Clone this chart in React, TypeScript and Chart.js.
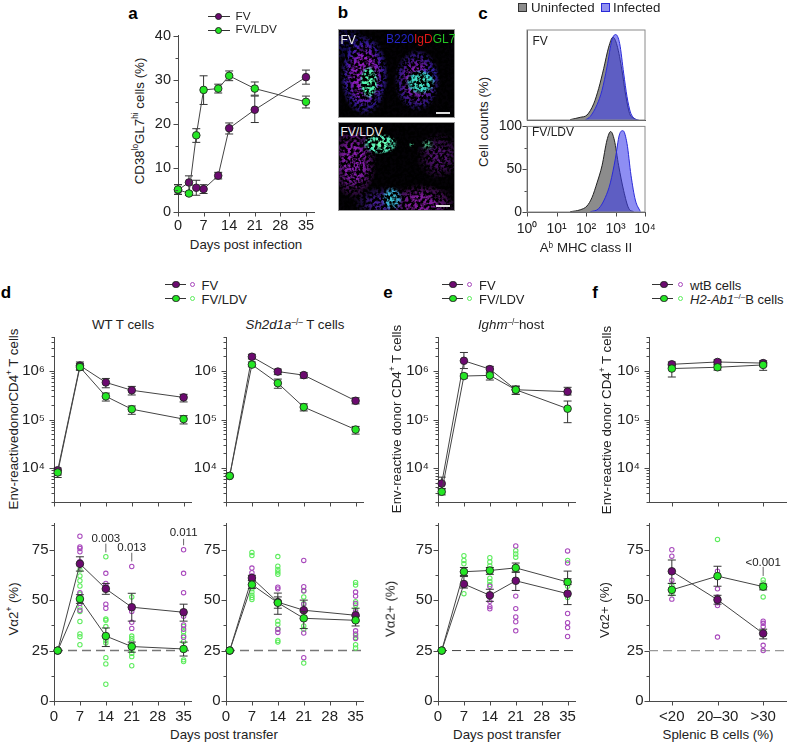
import React, { useEffect, useRef } from "react";
import { Chart, registerables } from "chart.js";
Chart.register(...registerables);

const FONT = "'Liberation Sans', Arial, sans-serif";
const INK = "#222";
const AXIS = "#4a4a4a";
const PURPLE = "#6c0a70";
const GREEN = "#24e624";
const PURPLE_DOT = "#a848bc";
const GREEN_DOT = "#5cec5c";

// ---- shared axis values
const dayTicks = [0, 7, 14, 21, 28, 35];
const pctTicks = [0, 12.5, 25, 37.5, 50, 62.5, 75, 87.5];
const pctLabels = [0, 25, 50, 75];
const aPctTicks = [0, 5, 10, 15, 20, 25, 30, 35, 40];
const aPctLabels = [0, 10, 20, 30, 40];
const logTicks = [2e3, 3e3, 4e3, 5e3, 6e3, 7e3, 8e3, 9e3, 1e4, 2e4, 3e4, 4e4, 5e4, 6e4, 7e4, 8e4, 9e4, 1e5, 2e5, 3e5, 4e5, 5e5, 6e5, 7e5, 8e5, 9e5, 1e6, 2e6, 3e6, 4e6, 5e6];
const logLabels: Record<number, string> = { 10000: "10⁴", 100000: "10⁵", 1000000: "10⁶" };
const cXTicks = [1, 10, 100, 1000, 10000];
const cXLabels: Record<number, string> = { 1: "10⁰", 10: "10¹", 100: "10²", 1000: "10³", 10000: "10⁴" };
const cYTicks = [0, 25, 50, 75, 100];
const cYLabels = [0, 50, 100];
const splenic = ["<20", "20–30", ">30"];
const transferDays = [1, 7, 14, 21, 35];

// ---- panel a
const aDays = [0, 3, 5, 7, 11, 14, 21, 35];
const aFv = [5, 6.7, 5.5, 5.2, 8.25, 19, 23.2, 30.6];
const aFvHi = [6.2, 8.2, 7.2, 6.2, 9, 20.2, 26.3, 32.2];
const aFvLo = [4, 3.8, 3.8, 4.2, 7.5, 17.7, 20.3, 29];
const aLdv = [5.1, 4.2, 17.4, 27.7, 28, 30.9, 28, 25];
const aLdvHi = [6.2, 4.6, 18.9, 30.9, 29, 32, 29.5, 26.3];
const aLdvLo = [4, 3.8, 15.8, 24.4, 27, 29.8, 26.5, 23.6];

// ---- panel c
const cTopGreyX = [29, 64, 108, 182, 269, 397, 587, 822, 1125, 1660, 2153, 3020, 4130, 5355];
const cTopGreyY = [0.4, 3, 5.5, 18, 35, 57, 81, 92, 83, 55, 30, 7, 2, 0];
const cTopBlueX = [95, 140, 236, 349, 515, 760, 1013, 1384, 1890, 2455, 3184, 4700, 6100];
const cTopBlueY = [0, 4, 17, 33, 59, 89, 95, 85, 52, 26, 9, 1, 0];
const cBotGreyX = [29, 64, 108, 160, 236, 349, 515, 685, 913, 1280, 1890, 2793, 4130];
const cBotGreyY = [0.3, 2.6, 7, 17, 34, 54, 84, 94, 84, 54, 25, 4.4, 0.3];
const cBotBlueX = [140, 269, 452, 668, 986, 1349, 1795, 2455, 3350, 4700, 6950];
const cBotBlueY = [0.3, 4, 17, 34, 62, 90, 95, 80, 43, 14, 0.5];

// ---- panel d, WT T cells
const wtTopFv = [9000, 1.29e6, 5.8e5, 4e5, 2.85e5];
const wtTopFvHi = [10000, 1.53e6, 7e5, 4.8e5, 3.3e5];
const wtTopFvLo = [7200, 1.03e6, 4.5e5, 3.2e5, 2.3e5];
const wtTopLdv = [8100, 1.2e6, 3e5, 1.63e5, 1.02e5];
const wtTopLdvHi = [9000, 1.43e6, 3.5e5, 1.9e5, 1.2e5];
const wtTopLdvLo = [6400, 1.06e6, 2.4e5, 1.28e5, 8.1e4];
const wtBotFv = [25, 68, 55.6, 46.5, 44];
const wtBotFvHi = [25, 71.5, 58.3, 53.4, 48];
const wtBotFvLo = [25, 64.4, 52.9, 39.6, 39.6];
const wtBotLdv = [25, 50.6, 32.2, 27, 25.8];
const wtBotLdvHi = [25, 52.7, 36.2, 29.2, 29.2];
const wtBotLdvLo = [25, 48.4, 27, 24.2, 22.3];
const wtFvDots: [number, number[]][] = [
  [7, [81.7, 76.4, 75.6, 74, 69.2, 53.7, 51.6, 48.4, 45]],
  [14, [63.3, 58.3, 57.2, 55.6, 48, 46]],
  [21, [66.7, 46.8, 44.4, 39, 36]],
  [35, [75, 63.3, 53.7, 42, 37.7, 35.6, 31.6]],
];
const wtLdvDots: [number, number[]][] = [
  [7, [65, 62, 59.6, 57, 53, 48.4, 46.3, 44.4, 39.4, 33.2, 31.9, 27.9]],
  [14, [71.5, 40.7, 40, 36.9, 31.6, 30, 28.8, 21.5, 18.4, 8.3]],
  [21, [51.6, 32.2, 31, 29.8, 25.2, 23.6, 22, 17.5]],
  [35, [37, 34.3, 32.4, 29.5, 20.4, 19.6]],
];
const wtNotes: [number, number, number, number, string][] = [
  [14, 80.4, 78, 73.7, "0.003"],
  [21, 76, 73.5, 69.2, "0.013"],
  [35, 83.6, 80.4, 77.2, "0.011"],
];

// ---- panel d, Sh2d1a T cells
const shTopFv = [6900, 1.96e6, 9.7e5, 8.2e5, 2.43e5];
const shTopFvHi = [6900, 2.2e6, 1.09e6, 9.2e5, 2.8e5];
const shTopFvLo = [6900, 1.77e6, 8.4e5, 7.1e5, 2.1e5];
const shTopLdv = [6900, 1.35e6, 5.6e5, 1.8e5, 6.2e4];
const shTopLdvHi = [6900, 1.53e6, 6.8e5, 2.1e5, 7.2e4];
const shTopLdvLo = [6900, 1.22e6, 4.4e5, 1.5e5, 5e4];
const shBotFv = [25, 61, 49, 45, 42.5];
const shBotFvHi = [25, 62.3, 53.5, 50, 46];
const shBotFvLo = [25, 59.8, 46, 40.7, 39.6];
const shBotLdv = [25, 57.7, 48.7, 41, 40];
const shBotLdvHi = [25, 59.6, 51.6, 44.4, 42];
const shBotLdvLo = [25, 55.8, 43, 35.9, 37.2];
const shFvDots: [number, number[]][] = [
  [7, [65.9, 63.6, 62]],
  [14, [56.4, 55.6, 35.6, 34]],
  [21, [69.7, 56.7, 54.5, 48, 45, 33.7, 21.5]],
  [35, [54, 52, 48.4, 44.2, 34.8, 33.2, 31]],
];
const shLdvDots: [number, number[]][] = [
  [7, [73.6, 72.1, 55.6, 54, 52.4, 51.3, 50.3]],
  [14, [71.6, 66.8, 65.2, 64, 62.8, 39.6, 38, 35.6, 30, 29.2]],
  [21, [54.8, 51.6, 48.4, 37.2, 35.6, 18.8]],
  [35, [58.8, 57.5, 49.2, 47.6, 45.2, 32.4, 31.4, 27.9, 26.3]],
];

// ---- panel e
const igTopFv = [4800, 1.62e6, 1.09e6, 4.1e5, 3.75e5];
const igTopFvHi = [6500, 2.4e6, 1.24e6, 4.9e5, 4.6e5];
const igTopFvLo = [3800, 1.12e6, 9.4e5, 3.3e5, 3.2e5];
const igTopLdv = [3250, 7.85e5, 8.1e5, 4.1e5, 1.67e5];
const igTopLdvHi = [3700, 8.7e5, 9e5, 4.8e5, 2.4e5];
const igTopLdvLo = [2800, 7.1e5, 6.5e5, 3.3e5, 8.6e4];
const igBotFv = [25, 58, 52.4, 59.6, 53.2];
const igBotFvHi = [25, 61.7, 55.4, 64, 64.4];
const igBotFvLo = [25, 56, 49.4, 54.8, 47.8];
const igBotLdv = [25, 64.1, 64.7, 66, 59];
const igBotLdvHi = [25, 66.2, 66.2, 68.4, 60.6];
const igBotLdvLo = [25, 62.2, 62.8, 63.8, 57.7];
const igFvDots: [number, number[]][] = [
  [7, [58.5]],
  [14, [56.9, 49.4, 46.8, 45.7]],
  [21, [76.9, 52, 45.8, 41.7, 39.3, 34.8]],
  [35, [74.4, 68.4, 43.4, 38.8, 36.4, 32]],
];
const igLdvDots: [number, number[]][] = [
  [7, [72, 69.7, 68, 53.2]],
  [14, [71, 68.9, 67, 60.9, 59.3, 57.7]],
  [21, [74.5, 72.9, 71.3]],
  [35, [69.7, 56.9, 53.7, 51.3]],
];

// ---- panel f
const fTopWt = [1.37e6, 1.53e6, 1.45e6];
const fTopWtHi = [1.53e6, 1.69e6, 1.62e6];
const fTopWtLo = [1.2e6, 1.37e6, 1.25e6];
const fTopKo = [1.12e6, 1.19e6, 1.33e6];
const fTopKoHi = [1.3e6, 1.33e6, 1.5e6];
const fTopKoLo = [7.5e5, 1.04e6, 1.03e6];
const fBotWt = [64.3, 50.2, 33.5];
const fBotWtHi = [69.9, 52.4, 35.6];
const fBotWtLo = [58.3, 48, 30.8];
const fBotKo = [55.1, 61.9, 56.7];
const fBotKoHi = [58.3, 66.8, 58];
const fBotKoLo = [52.4, 56.9, 55.1];
const fWtDots: [string, number[]][] = [
  ["<20", [75, 71.8, 59.9, 50.5]],
  ["20–30", [64.4, 55.6, 51.6, 48.7, 47.3, 31.7]],
  [">30", [39.6, 38.5, 36.9, 27.6, 25]],
];
const fKoDots: [string, number[]][] = [
  ["<20", [57.2, 53.2]],
  ["20–30", [80.1]],
  [">30", [60, 58.5, 51.6]],
];
const fNotes: [string, number, number, number, string][] = [[">30", 68.7, 66.5, 62, "<0.001"]];

// ---- dataset helpers
const mean = (label: string, xs: any[], ys: number[], hi: number[], lo: number[], color: string, order: number) => ({
  label,
  data: ys.map((y, i) => ({ x: xs[i], y })),
  errHi: hi,
  errLo: lo,
  borderColor: "#444",
  borderWidth: 1,
  backgroundColor: color,
  pointBackgroundColor: color,
  pointBorderColor: "#222",
  pointBorderWidth: 0.9,
  pointRadius: 3.8,
  tension: 0,
  order,
  clip: false,
});
const dots = (label: string, groups: [any, number[]][], color: string) => ({
  label,
  data: groups.flatMap(([x, ys]) => ys.map((y) => ({ x, y }))),
  showLine: false,
  pointBackgroundColor: "rgba(255,255,255,0)",
  pointBorderColor: color,
  pointBorderWidth: 1.05,
  pointRadius: 2.2,
  order: 10,
  clip: false,
});
const hist = (label: string, xs: number[], ys: number[], fill: string, line: string, order: number) => ({
  label,
  data: ys.map((y, i) => ({ x: xs[i], y })),
  fill: "origin",
  backgroundColor: fill,
  borderColor: line,
  borderWidth: 1,
  pointRadius: 0,
  cubicInterpolationMode: "monotone",
  order,
});

// ---- plugin: error bars, dashed reference, tick marks, frame, p-value notes
const decor = (cfg: any) => ({
  id: "decor",
  beforeDatasetsDraw(chart: any) {
    if (cfg.refY === undefined) return;
    const { ctx, chartArea, scales } = chart;
    const y = scales.y.getPixelForValue(cfg.refY);
    ctx.save();
    ctx.strokeStyle = cfg.refColor || "#777";
    ctx.lineWidth = cfg.refWidth || 1.3;
    ctx.setLineDash([9, 5]);
    ctx.beginPath();
    ctx.moveTo(chartArea.left, y);
    ctx.lineTo(chartArea.right, y);
    ctx.stroke();
    ctx.restore();
  },
  beforeDatasetDraw(chart: any, args: any) {
    const ds = chart.data.datasets[args.index];
    if (!ds.errHi) return;
    const { ctx, scales } = chart;
    const meta = chart.getDatasetMeta(args.index);
    ctx.save();
    ctx.strokeStyle = "#333";
    ctx.lineWidth = 1;
    meta.data.forEach((pt: any, i: number) => {
      const a = scales.y.getPixelForValue(ds.errHi[i]);
      const b = scales.y.getPixelForValue(ds.errLo[i]);
      if (Math.abs(a - b) < 0.5) return;
      ctx.beginPath();
      ctx.moveTo(pt.x, a);
      ctx.lineTo(pt.x, b);
      ctx.moveTo(pt.x - 4, a);
      ctx.lineTo(pt.x + 4, a);
      ctx.moveTo(pt.x - 4, b);
      ctx.lineTo(pt.x + 4, b);
      ctx.stroke();
    });
    ctx.restore();
  },
  afterDraw(chart: any) {
    const { ctx, chartArea, scales } = chart;
    ctx.save();
    ctx.strokeStyle = AXIS;
    ctx.lineWidth = 1;
    if (!cfg.noXTicks) {
      scales.x.ticks.forEach((t: any) => {
        const p = Math.round(scales.x.getPixelForValue(t.value)) + 0.5;
        ctx.beginPath();
        ctx.moveTo(p, chartArea.bottom);
        ctx.lineTo(p, chartArea.bottom + 4.5);
        ctx.stroke();
      });
    }
    if (!cfg.noYTicks) {
      scales.y.ticks.forEach((t: any) => {
        const major = !!t.label;
        const p = Math.round(scales.y.getPixelForValue(t.value)) + 0.5;
        ctx.beginPath();
        ctx.moveTo(chartArea.left, p);
        ctx.lineTo(chartArea.left - (major ? 4.5 : 2.5), p);
        ctx.stroke();
      });
    }
    if (cfg.frame) {
      ctx.strokeStyle = "#8a8a8a";
      ctx.strokeRect(chartArea.left, chartArea.top, chartArea.right - chartArea.left, chartArea.bottom - chartArea.top);
    }
    (cfg.notes || []).forEach(([x, yText, y1, y2, text]: any) => {
      const px = scales.x.getPixelForValue(x);
      ctx.strokeStyle = "#666";
      ctx.beginPath();
      ctx.moveTo(px, scales.y.getPixelForValue(y1));
      ctx.lineTo(px, scales.y.getPixelForValue(y2));
      ctx.stroke();
      ctx.fillStyle = INK;
      ctx.font = `11.5px ${FONT}`;
      ctx.textAlign = "center";
      ctx.textBaseline = "middle";
      ctx.fillText(text, px, scales.y.getPixelForValue(yText));
    });
    ctx.restore();
  },
});

// ---- axes
const xAxis = (o: any, mb: number) => ({
  type: o.type || "linear",
  min: o.min,
  max: o.max,
  offset: o.type === "category" ? true : false,
  afterBuildTicks: (s: any) => {
    if (o.ticks) s.ticks = o.ticks.map((value: number) => ({ value }));
  },
  afterFit: (s: any) => {
    s.height = mb;
  },
  grid: { display: false, drawTicks: false, tickLength: 0 },
  border: { display: true, color: AXIS, width: 1 },
  ticks: {
    display: !o.hide,
    autoSkip: false,
    maxRotation: 0,
    minRotation: 0,
    padding: o.pad ?? 7,
    color: INK,
    font: { family: FONT, size: o.size ?? 15 },
    ...(o.fmt ? { callback: o.fmt } : {}),
  },
});
const yAxis = (o: any, ml: number) => ({
  type: o.type || "linear",
  min: o.min,
  max: o.max,
  afterBuildTicks: (s: any) => {
    s.ticks = o.ticks.map((value: number) => ({ value }));
  },
  afterFit: (s: any) => {
    s.width = ml;
  },
  grid: { display: false, drawTicks: false, tickLength: 0 },
  border: { display: true, color: AXIS, width: 1 },
  ticks: {
    display: !o.hide,
    autoSkip: false,
    padding: o.pad ?? 6,
    color: INK,
    font: { family: FONT, size: o.size ?? 15 },
    callback: o.fmt,
  },
});

const pctFmt = (v: number) => (pctLabels.includes(v) ? String(v) : "");
const logFmt = (v: number) => logLabels[v] || "";
const dayX = { min: 0, max: 37, ticks: dayTicks, fmt: (v: number) => String(v) };
const pctY = { min: 0, max: 88, ticks: pctTicks, fmt: pctFmt, pad: 5.5 };
const logY = { type: "logarithmic", min: 2000, max: 5e6, ticks: logTicks, fmt: logFmt, pad: 9 };
const catX = { type: "category", labels: splenic };

const ML = 48, MT = 9, MR = 24;

function Panel({ left, top, w, h, x, y, mb, datasets, labels, deco }: any) {
  const ref = useRef<HTMLCanvasElement>(null);
  useEffect(() => {
    const chart = new Chart(ref.current as HTMLCanvasElement, {
      type: "line",
      data: { labels, datasets },
      options: {
        animation: false,
        responsive: false,
        maintainAspectRatio: false,
        layout: { padding: { top: MT, right: MR, left: 0, bottom: 0 } },
        plugins: { legend: { display: false }, tooltip: { enabled: false }, title: { display: false } },
        scales: { x: xAxis(x, mb), y: yAxis(y, ML) },
      } as any,
      plugins: [decor(deco || {})],
    } as any);
    return () => chart.destroy();
  }, []);
  return (
    <canvas
      ref={ref}
      width={w + ML + MR}
      height={h + MT + mb}
      style={{ position: "absolute", left: left - ML, top: top - MT, width: w + ML + MR, height: h + MT + mb }}
    />
  );
}

// ---- text helpers
const T = ({ x, y, size = 13.3, rot, bold, color = INK, start, spacing, children }: any) => (
  <div
    style={{
      position: "absolute",
      left: x,
      top: y,
      transform: rot ? "translate(-50%,-50%) rotate(180deg)" : `translate(${start ? "0" : "-50%"},-50%)`,
      writingMode: rot ? "vertical-rl" : undefined,
      whiteSpace: "nowrap",
      fontFamily: FONT,
      fontSize: size,
      lineHeight: 1,
      fontWeight: bold ? 700 : 400,
      letterSpacing: spacing,
      color,
    }}
  >
    {children}
  </div>
);
const Sup = ({ children }: any) => (
  <span style={{ fontSize: "0.62em", lineHeight: 0, verticalAlign: "0.55em" }}>{children}</span>
);

const Key = ({ x0, x1, cx, hollowX, y, fill, stroke, big = 3.8 }: any) => (
  <>
    <div style={{ position: "absolute", left: x0, top: y, width: x1 - x0, height: 1, background: "#333" }} />
    <div
      style={{
        position: "absolute",
        left: cx - big,
        top: y + 0.5 - big,
        width: big * 2,
        height: big * 2,
        borderRadius: "50%",
        background: fill,
        border: "0.9px solid #222",
        boxSizing: "border-box",
      }}
    />
    {hollowX !== undefined && (
      <div
        style={{
          position: "absolute",
          left: hollowX - 2.7,
          top: y + 0.5 - 2.7,
          width: 5.4,
          height: 5.4,
          borderRadius: "50%",
          border: `1.1px solid ${stroke}`,
          boxSizing: "border-box",
        }}
      />
    )}
  </>
);

// Micrograph stand-ins for panel b: soft colour regions, mottled by an SVG noise filter.
const Micro = ({ top, layers, id, seed }: any) => (
  <div
    style={{
      position: "absolute",
      left: 338,
      top,
      width: 117,
      height: 89,
      background: "#040206",
      border: "1px solid #999",
      boxSizing: "border-box",
      overflow: "hidden",
    }}
  >
    <div style={{ position: "absolute", inset: 0, background: layers }} />
    <svg width={117} height={89} style={{ position: "absolute", left: 0, top: 0, filter: "blur(0.5px)" }}>
      <filter id={id} x="0" y="0" width="100%" height="100%">
        <feTurbulence type="fractalNoise" baseFrequency="0.33" numOctaves={2} seed={seed} />
        <feColorMatrix type="matrix" values="0 0 0 0 0  0 0 0 0 0  0 0 0 0 0  4.5 0 0 0 -1.7" />
      </filter>
      <rect width={117} height={89} filter={`url(#${id})`} />
    </svg>
  </div>
);
const microTopGreen =
  "radial-gradient(ellipse 8% 19% at 26% 60%, #60ffb0 0%, #48f0b0 75%, rgba(46,200,136,0) 100%)," +
  "radial-gradient(ellipse 13% 14% at 71% 60%, #50f0c8 0%, #38d0c8 75%, rgba(40,170,160,0) 100%)";
const microTopBase =
  "radial-gradient(ellipse 9% 12% at 78% 52%, rgba(40,50,210,0.95) 0%, rgba(40,50,190,0) 100%)," +
  "radial-gradient(ellipse 21% 47% at 22% 52%, rgba(150,30,200,0.95) 45%, rgba(60,30,180,0.8) 80%, rgba(40,20,140,0) 100%)," +
  "radial-gradient(ellipse 20% 36% at 68% 58%, rgba(140,30,190,0.9) 40%, rgba(65,30,175,0.7) 80%, rgba(40,20,140,0) 100%)," +
  "radial-gradient(ellipse 18% 28% at 6% 15%, rgba(30,20,140,0.7) 0%, rgba(30,20,120,0) 100%)";
const microBotGreen =
  "radial-gradient(ellipse 15% 12% at 36% 24%, #70ffb0 0%, #50e8b8 75%, rgba(50,200,160,0) 100%)," +
  "radial-gradient(ellipse 6% 7% at 77% 25%, #58f0a0 0%, rgba(60,208,128,0) 100%)," +
  "radial-gradient(ellipse 2.5% 3% at 63% 25%, #50e0a0 0%, rgba(48,192,128,0) 100%)," +
  "radial-gradient(ellipse 9% 14% at 46% 87%, #40c8d0 0%, #38a8d0 65%, rgba(40,140,180,0) 100%)";
const microBotBase =
  "radial-gradient(ellipse 20% 44% at 13% 45%, rgba(140,30,180,0.95) 40%, rgba(80,20,130,0) 100%)," +
  "radial-gradient(ellipse 30% 22% at 72% 92%, rgba(140,30,170,0.9) 35%, rgba(80,20,130,0) 100%)," +
  "radial-gradient(ellipse 20% 28% at 87% 38%, rgba(110,25,150,0.7) 30%, rgba(70,20,120,0) 100%)," +
  "radial-gradient(ellipse 26% 20% at 38% 92%, rgba(80,35,170,0.85) 30%, rgba(60,30,150,0) 100%)";

const TOP_BOX = { top: 328, h: 183 };
const BOT_BOX = { top: 518, h: 183 };

export default function App() {
  return (
    <div style={{ position: "absolute", left: 0, top: 0, width: 788, height: 743, background: "#fff", overflow: "hidden" }}>
      {/* panel letters */}
      <T x={133} y={13} size={17} bold color="#000">a</T>
      <T x={343} y={12} size={17} bold color="#000">b</T>
      <T x={483} y={13} size={17} bold color="#000">c</T>
      <T x={6} y={292} size={17} bold color="#000">d</T>
      <T x={388} y={292} size={17} bold color="#000">e</T>
      <T x={595} y={292} size={17} bold color="#000">f</T>

      {/* a */}
      <T x={140} y={121} rot size={13.3}>CD38<Sup>lo</Sup>GL7<Sup>hi</Sup> cells (%)</T>
      <Panel
        left={178}
        top={29}
        w={136}
        h={183}
        mb={24}
        x={{ min: 0, max: 37.2, ticks: dayTicks, fmt: (v: number) => String(v), pad: 5.5, size: 14.5 }}
        y={{ min: 0, max: 40, ticks: aPctTicks, fmt: (v: number) => (aPctLabels.includes(v) ? String(v) : ""), pad: 7, size: 14.5 }}
        datasets={[mean("FV", aDays, aFv, aFvHi, aFvLo, PURPLE, 2), mean("FV/LDV", aDays, aLdv, aLdvHi, aLdvLo, GREEN, 1)]}
      />
      <Key x0={208} x1={230} cx={218.7} y={16} fill={PURPLE} />
      <Key x0={208} x1={230} cx={218.7} y={30} fill={GREEN} />
      <T x={235.5} y={17} size={11.8} start>FV</T>
      <T x={235.5} y={30} size={11.8} start>FV/LDV</T>
      <T x={246} y={245} size={13.3}>Days post infection</T>

      {/* b */}
      <Micro id="noiseTop" seed={4} top={29} layers={`${microTopGreen},${microTopBase}`} />
      <Micro id="noiseBot" seed={9} top={122} layers={`${microBotGreen},${microBotBase}`} />
      <T x={340.5} y={40} size={12} color="#eee" start>FV</T>
      <T x={386} y={39} size={12} start>
        <span style={{ color: "#2424c8" }}>B220</span>
        <span style={{ color: "#e01818" }}>IgD</span>
        <span style={{ color: "#22c422" }}>GL7</span>
      </T>
      <T x={340.5} y={132} size={12} color="#eee" start>FV/LDV</T>
      <div style={{ position: "absolute", left: 436, top: 112, width: 14, height: 1.5, background: "#ddd" }} />
      <div style={{ position: "absolute", left: 436, top: 205, width: 14, height: 1.5, background: "#ddd" }} />

      {/* c */}
      <T x={484} y={122} rot>Cell counts (%)</T>
      <Panel
        left={527}
        top={30}
        w={118}
        h={90}
        mb={3}
        x={{ type: "logarithmic", min: 1, max: 10000, ticks: cXTicks, hide: true }}
        y={{ min: 0, max: 100, ticks: cYTicks, hide: true, fmt: () => "" }}
        deco={{ frame: true, noXTicks: true, noYTicks: true }}
        datasets={[
          hist("Uninfected", cTopGreyX, cTopGreyY, "rgba(95,95,95,0.72)", "#222", 2),
          hist("Infected", cTopBlueX, cTopBlueY, "rgba(60,60,235,0.58)", "#2a2ad8", 1),
        ]}
      />
      <Panel
        left={527}
        top={122}
        w={118}
        h={90}
        mb={26}
        x={{ type: "logarithmic", min: 1, max: 10000, ticks: cXTicks, fmt: (v: number) => cXLabels[v] || "", pad: 9, size: 14 }}
        y={{ min: 0, max: 100, ticks: cYTicks, fmt: (v: number) => (cYLabels.includes(v) ? String(v) : ""), pad: 5, size: 14 }}
        deco={{ frame: true }}
        datasets={[
          hist("Uninfected", cBotGreyX, cBotGreyY, "rgba(95,95,95,0.72)", "#222", 2),
          hist("Infected", cBotBlueX, cBotBlueY, "rgba(60,60,235,0.58)", "#2a2ad8", 1),
        ]}
      />
      <div style={{ position: "absolute", left: 518, top: 3, width: 9, height: 9, background: "#8c8c8c", border: "1px solid #333", boxSizing: "border-box" }} />
      <T x={531} y={7.5} start>Uninfected</T>
      <div style={{ position: "absolute", left: 601, top: 3, width: 9, height: 9, background: "#9090f0", border: "1px solid #2a2ad8", boxSizing: "border-box" }} />
      <T x={613} y={7.5} start>Infected</T>
      <T x={532.5} y={41} size={12} start>FV</T>
      <T x={532} y={132} size={12} start>FV/LDV</T>
      <T x={586} y={248}>A<Sup>b</Sup> MHC class II</T>

      {/* d */}
      <Key x0={165} x1={186} cx={176} hollowX={192.7} y={284} fill={PURPLE} stroke={PURPLE_DOT} />
      <Key x0={165} x1={186} cx={176} hollowX={192.7} y={298} fill={GREEN} stroke={GREEN_DOT} />
      <T x={201.5} y={284.5} size={13} start>FV</T>
      <T x={201.5} y={298.5} size={13} start>FV/LDV</T>
      <T x={123} y={325}>WT T cells</T>
      <T x={295} y={325}><i>Sh2d1a</i><Sup>–/–</Sup> T cells</T>
      <T x={13.5} y={419} rot>Env-reactivedonorCD4<Sup>+</Sup> T cells</T>
      <T x={13.5} y={609} rot>Vα2<Sup>+</Sup> (%)</T>
      <T x={224} y={735}>Days post transfer</T>

      <Panel
        left={54}
        {...TOP_BOX}
        w={137}
        mb={9}
        x={{ ...dayX, hide: true }}
        y={logY}
        datasets={[
          mean("FV", transferDays, wtTopFv, wtTopFvHi, wtTopFvLo, PURPLE, 2),
          mean("FV/LDV", transferDays, wtTopLdv, wtTopLdvHi, wtTopLdvLo, GREEN, 1),
        ]}
      />
      <Panel
        left={54}
        {...BOT_BOX}
        w={137}
        mb={26}
        x={dayX}
        y={pctY}
        deco={{ refY: 25, refColor: "#777", refWidth: 1.5, notes: wtNotes }}
        datasets={[
          mean("FV", transferDays, wtBotFv, wtBotFvHi, wtBotFvLo, PURPLE, 2),
          mean("FV/LDV", transferDays, wtBotLdv, wtBotLdvHi, wtBotLdvLo, GREEN, 1),
          dots("FV cells", wtFvDots, PURPLE_DOT),
          dots("FV/LDV cells", wtLdvDots, GREEN_DOT),
        ]}
      />
      <Panel
        left={226}
        {...TOP_BOX}
        w={137}
        mb={9}
        x={{ ...dayX, hide: true }}
        y={logY}
        datasets={[
          mean("FV", transferDays, shTopFv, shTopFvHi, shTopFvLo, PURPLE, 2),
          mean("FV/LDV", transferDays, shTopLdv, shTopLdvHi, shTopLdvLo, GREEN, 1),
        ]}
      />
      <Panel
        left={226}
        {...BOT_BOX}
        w={137}
        mb={26}
        x={dayX}
        y={pctY}
        deco={{ refY: 25, refColor: "#777", refWidth: 1.5 }}
        datasets={[
          mean("FV", transferDays, shBotFv, shBotFvHi, shBotFvLo, PURPLE, 2),
          mean("FV/LDV", transferDays, shBotLdv, shBotLdvHi, shBotLdvLo, GREEN, 1),
          dots("FV cells", shFvDots, PURPLE_DOT),
          dots("FV/LDV cells", shLdvDots, GREEN_DOT),
        ]}
      />

      {/* e */}
      <Key x0={442} x1={463} cx={453} hollowX={469.7} y={284} fill={PURPLE} stroke={PURPLE_DOT} />
      <Key x0={442} x1={463} cx={453} hollowX={469.7} y={298} fill={GREEN} stroke={GREEN_DOT} />
      <T x={479} y={284.5} size={13} start>FV</T>
      <T x={479} y={298.5} size={13} start>FV/LDV</T>
      <T x={511} y={325}><i>Ighm</i><Sup>–/–</Sup>host</T>
      <T x={397} y={419} rot>Env-reactive donor CD4<Sup>+</Sup> T cells</T>
      <T x={390} y={609} rot>Vα2+ (%)</T>
      <T x={507} y={735}>Days post transfer</T>
      <Panel
        left={438}
        {...TOP_BOX}
        w={137}
        mb={9}
        x={{ ...dayX, hide: true }}
        y={logY}
        datasets={[
          mean("FV", transferDays, igTopFv, igTopFvHi, igTopFvLo, PURPLE, 2),
          mean("FV/LDV", transferDays, igTopLdv, igTopLdvHi, igTopLdvLo, GREEN, 1),
        ]}
      />
      <Panel
        left={438}
        {...BOT_BOX}
        w={137}
        mb={26}
        x={dayX}
        y={pctY}
        deco={{ refY: 25, refColor: "#444", refWidth: 1 }}
        datasets={[
          mean("FV", transferDays, igBotFv, igBotFvHi, igBotFvLo, PURPLE, 2),
          mean("FV/LDV", transferDays, igBotLdv, igBotLdvHi, igBotLdvLo, GREEN, 1),
          dots("FV cells", igFvDots, PURPLE_DOT),
          dots("FV/LDV cells", igLdvDots, GREEN_DOT),
        ]}
      />

      {/* f */}
      <Key x0={652} x1={673} cx={664} hollowX={680.7} y={284} fill={PURPLE} stroke={PURPLE_DOT} />
      <Key x0={652} x1={673} cx={664} hollowX={680.7} y={298} fill={GREEN} stroke={GREEN_DOT} />
      <T x={690} y={284.5} size={13} start>wtB cells</T>
      <T x={690} y={298.5} size={13} start><i>H2-Ab1</i><Sup>–/–</Sup>B cells</T>
      <T x={606.5} y={420} rot>Env-reactive donor CD4<Sup>+</Sup> T cells</T>
      <T x={605} y={610} rot>Vα2+ (%)</T>
      <T x={718} y={735}>Splenic B cells (%)</T>
      <Panel
        left={649}
        {...TOP_BOX}
        w={137}
        mb={9}
        labels={splenic}
        x={{ ...catX, hide: true }}
        y={logY}
        datasets={[
          mean("wtB cells", splenic, fTopWt, fTopWtHi, fTopWtLo, PURPLE, 2),
          mean("H2-Ab1 B cells", splenic, fTopKo, fTopKoHi, fTopKoLo, GREEN, 1),
        ]}
      />
      <Panel
        left={649}
        {...BOT_BOX}
        w={137}
        mb={26}
        labels={splenic}
        x={catX}
        y={pctY}
        deco={{ refY: 25, refColor: "#999", refWidth: 1.3, notes: fNotes }}
        datasets={[
          mean("wtB cells", splenic, fBotWt, fBotWtHi, fBotWtLo, PURPLE, 1),
          mean("H2-Ab1 B cells", splenic, fBotKo, fBotKoHi, fBotKoLo, GREEN, 2),
          dots("wtB", fWtDots, PURPLE_DOT),
          dots("H2-Ab1", fKoDots, GREEN_DOT),
        ]}
      />
    </div>
  );
}
